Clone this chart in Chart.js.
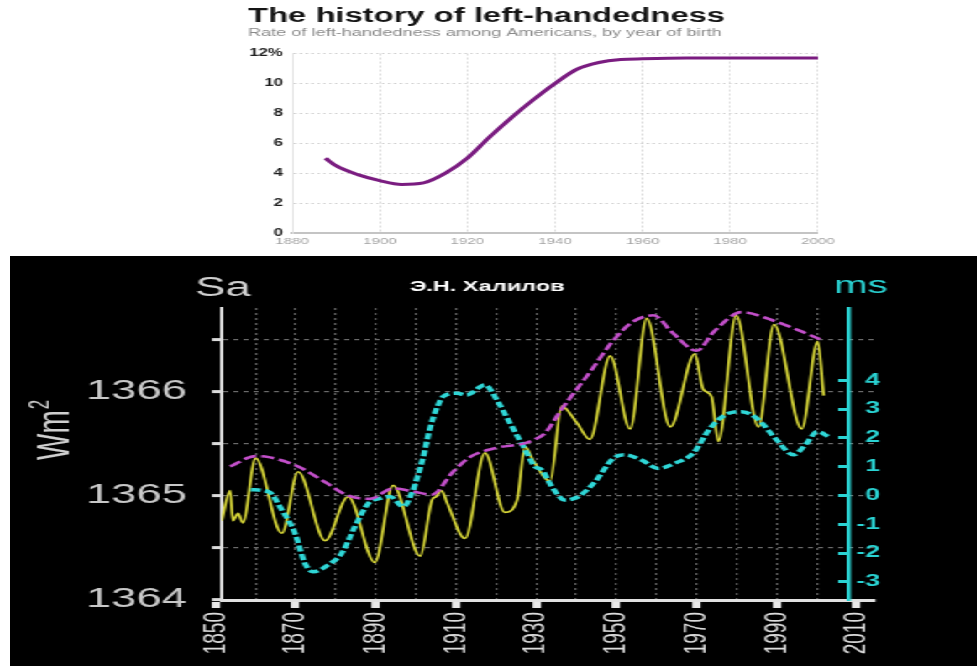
<!DOCTYPE html>
<html>
<head>
<meta charset="utf-8">
<script src="https://cdn.jsdelivr.net/npm/chart.js@4.4.1/dist/chart.umd.min.js"></script>
<style>
    html, body { margin: 0; padding: 0; background: #fff; overflow: hidden; }
    body { width: 977px; height: 666px; position: relative; }
    /* the picture is stretched sideways, so each panel is drawn narrow and widened here */
    .panel { position: absolute; transform-origin: 0 0; transform: scaleX(1.68); }
    #top-panel { left: 240px; top: 0; width: 357px; height: 252px; }
    #bottom-panel { left: 10px; top: 256px; width: 576px; height: 410px; background: #000; }
</style>
</head>
<body>
<div id="top-panel" class="panel"><canvas id="handChart"></canvas></div>
<div id="bottom-panel" class="panel"><canvas id="solarChart"></canvas></div>
<script>
// top chart: share of left-handed Americans by year of birth
const handYears = [1887.6, 1890, 1895, 1900, 1905, 1910, 1915, 1920, 1925, 1930, 1935, 1940, 1945, 1950, 1955, 1960, 1970, 1980, 1990, 2000];
const handRates = [5.0, 4.5, 3.9, 3.5, 3.25, 3.35, 4.0, 5.0, 6.4, 7.7, 8.9, 10.0, 10.95, 11.4, 11.6, 11.65, 11.7, 11.7, 11.7, 11.7];
const handXTicks = [1880, 1900, 1920, 1940, 1960, 1980, 2000];
const handYTicks = [0, 2, 4, 6, 8, 10, 12];

// bottom chart: solar irradiance (Sa), its envelope and length of day (ms)
const xTickYears = [1850, 1860, 1870, 1880, 1890, 1900, 1910, 1920, 1930, 1940, 1950, 1960, 1970, 1980, 1990, 2000, 2010];
const saTicks = [1364, 1364.5, 1365, 1365.5, 1366, 1366.5];
const msTicks = [-3, -2, -1, 0, 1, 2, 3, 4];
const msAxisYear = 2008.07;

const saYears = [1851.55, 1853.63, 1854.32, 1855.61, 1856.80, 1859.98, 1866.53, 1870.59, 1877.34, 1883.09, 1889.74, 1894.30, 1901.05, 1904.02, 1905.02, 1906.40, 1907.79, 1912.26, 1917.22, 1922.18, 1925.25, 1927.24, 1929.22, 1933.49, 1936.36, 1940.13, 1943.41, 1948.47, 1953.43, 1957.59, 1963.45, 1969.60, 1971.68, 1973.76, 1975.45, 1979.91, 1985.47, 1989.34, 1996.28, 2000.25, 2001.74];
const saValues = [1364.76, 1365.05, 1364.76, 1364.83, 1364.74, 1365.36, 1364.64, 1365.23, 1364.57, 1364.99, 1364.36, 1365.10, 1364.42, 1364.96, 1364.99, 1365.05, 1364.93, 1364.59, 1365.41, 1364.84, 1364.96, 1365.47, 1365.34, 1365.14, 1365.86, 1365.70, 1365.54, 1366.34, 1365.64, 1366.70, 1365.66, 1366.36, 1366.02, 1365.95, 1365.52, 1366.73, 1365.66, 1366.64, 1365.64, 1366.48, 1365.96];

const envYears = [1853.63, 1859.98, 1863.25, 1870.59, 1877.34, 1883.09, 1888.55, 1894.30, 1899.36, 1903.92, 1909.28, 1913.45, 1920.19, 1926.84, 1929.72, 1932.20, 1936.36, 1943.90, 1948.86, 1953.82, 1959.28, 1963.84, 1970.09, 1974.26, 1981.30, 1989.14, 1995.88, 2000.84];
const envValues = [1365.28, 1365.38, 1365.37, 1365.28, 1365.13, 1365.00, 1364.97, 1365.07, 1365.04, 1365.01, 1365.23, 1365.37, 1365.46, 1365.50, 1365.54, 1365.60, 1365.83, 1366.21, 1366.47, 1366.66, 1366.73, 1366.57, 1366.39, 1366.57, 1366.76, 1366.68, 1366.58, 1366.50];

const lodYears = [1858.79, 1863.25, 1866.53, 1869.80, 1872.28, 1874.36, 1878.13, 1881.50, 1884.78, 1888.15, 1891.03, 1893.51, 1896.88, 1898.96, 1901.84, 1903.43, 1905.41, 1906.90, 1910.17, 1912.65, 1917.22, 1920.19, 1923.47, 1926.84, 1929.72, 1931.40, 1933.88, 1937.16, 1940.53, 1944.70, 1949.26, 1952.14, 1956.30, 1960.47, 1964.63, 1969.20, 1973.37, 1977.93, 1981.30, 1985.07, 1990.03, 1994.20, 1997.47, 2000.15, 2003.03];
const lodValues = [0.20, 0.13, -0.50, -1.31, -2.35, -2.65, -2.41, -2.00, -1.08, -0.27, -0.10, -0.04, -0.39, 0.08, 1.35, 2.30, 3.10, 3.45, 3.55, 3.49, 3.84, 3.32, 2.51, 1.69, 1.00, 0.89, 0.31, -0.16, -0.04, 0.48, 1.29, 1.41, 1.23, 0.94, 1.12, 1.47, 2.33, 2.85, 2.91, 2.68, 1.93, 1.41, 1.81, 2.22, 2.04];

Chart.defaults.font.family = '"Liberation Sans", Arial, sans-serif';
Chart.defaults.animation = false;

function toPoints(xs, ys) {
    return xs.map((x, i) => ({ x: x, y: ys[i] }));
}

function fixedTicks(values) {
    return scale => { scale.ticks = values.map(v => ({ value: v })); };
}

const CLEAR = 'rgba(0,0,0,0)';

new Chart(document.getElementById('handChart'), {
    type: 'line',
    data: {
        datasets: [{
            data: toPoints(handYears, handRates),
            borderColor: '#7a1c80',
            borderWidth: 3,
            pointRadius: 0,
            cubicInterpolationMode: 'monotone'
        }]
    },
    options: {
        responsive: true,
        maintainAspectRatio: false,
        layout: { padding: { left: 4.8, right: 5.8, top: 0, bottom: 0 } },
        plugins: {
            legend: { display: false },
            tooltip: { enabled: false },
            title: {
                display: true,
                text: 'The history of left-handedness',
                align: 'start',
                color: '#151515',
                font: { size: 19.5, weight: 'bold', lineHeight: 1.0 },
                padding: { top: 7, bottom: 0 }
            },
            subtitle: {
                display: true,
                text: 'Rate of left-handedness among Americans, by year of birth',
                align: 'start',
                color: '#8a8a8a',
                font: { size: 10.8, lineHeight: 1.3 },
                padding: { top: 0, bottom: 13 }
            }
        },
        scales: {
            x: {
                type: 'linear',
                min: 1880,
                max: 2000,
                afterBuildTicks: fixedTicks(handXTicks),
                afterFit: s => { s.height = 19; },
                ticks: { color: '#a4a4a4', font: { size: 9 }, padding: 3, callback: v => String(v) },
                grid: {
                    drawTicks: false,
                    color: c => (c.tick && c.tick.value === 1880) ? CLEAR : '#dddddd'
                },
                border: { color: '#c4c4c4', width: 2, dash: [2, 2] }
            },
            y: {
                min: 0,
                max: 12,
                afterBuildTicks: fixedTicks(handYTicks),
                afterFit: s => { s.width = 26.2; },
                ticks: {
                    color: '#1e1e1e',
                    font: { size: 10, weight: 'bold' },
                    padding: 5.5,
                    callback: v => v === 12 ? '12%' : String(v)
                },
                grid: {
                    drawTicks: false,
                    color: c => (c.tick && c.tick.value === 0) ? CLEAR : '#d2d2d2'
                },
                border: { color: '#e2e2e2', width: 1, dash: [1.5, 2] }
            }
        }
    }
});

// texts of the dark panel that are not axis labels, and the labels of the ms axis
const solarTextPlugin = {
    id: 'solarText',
    afterDraw(chart) {
        const ctx = chart.ctx;
        const area = chart.chartArea;
        const msScale = chart.scales.ms;
        const axisX = chart.scales.x.getPixelForValue(msAxisYear);
        ctx.save();
        ctx.textBaseline = 'alphabetic';

        ctx.fillStyle = '#cfcfcf';
        ctx.font = '27px "Liberation Sans", Arial, sans-serif';
        ctx.textAlign = 'left';
        ctx.fillText('Sa', area.left - 16, area.top - 12);

        ctx.fillStyle = '#ffffff';
        ctx.font = 'bold 14px "Liberation Sans", Arial, sans-serif';
        ctx.textAlign = 'center';
        ctx.fillText('Э.Н. Халилов', 284, area.top - 17);

        ctx.fillStyle = '#2ad3d3';
        ctx.font = '24px "Liberation Sans", Arial, sans-serif';
        ctx.textAlign = 'left';
        ctx.fillText('ms', axisX - 9, area.top - 15);

        ctx.font = 'bold 16px "Liberation Sans", Arial, sans-serif';
        ctx.textAlign = 'right';
        ctx.textBaseline = 'middle';
        msScale.ticks.forEach(t => {
            ctx.fillText(String(t.value), axisX + 18.5, msScale.getPixelForValue(t.value));
        });

        // Wm2, read upwards
        ctx.fillStyle = '#cfcfcf';
        ctx.textAlign = 'left';
        ctx.textBaseline = 'alphabetic';
        ctx.translate(34.5, 204);
        ctx.rotate(-Math.PI / 2);
        ctx.font = '28px "Liberation Sans", Arial, sans-serif';
        ctx.fillText('Wm', 0, 0);
        const w = ctx.measureText('Wm').width;
        ctx.font = '17px "Liberation Sans", Arial, sans-serif';
        ctx.fillText('2', w + 1, -12);
        ctx.restore();
    }
};

new Chart(document.getElementById('solarChart'), {
    type: 'line',
    data: {
        datasets: [
            {
                data: toPoints(envYears, envValues),
                yAxisID: 'y',
                borderColor: '#c24fc9',
                borderWidth: 2.6,
                borderDash: [8, 3],
                pointRadius: 0,
                cubicInterpolationMode: 'monotone'
            },
            {
                data: toPoints(lodYears, lodValues),
                yAxisID: 'ms',
                borderColor: '#2fd6d6',
                borderWidth: 3.5,
                borderDash: [6, 2.5],
                pointRadius: 0,
                cubicInterpolationMode: 'monotone'
            },
            {
                data: toPoints(saYears, saValues),
                yAxisID: 'y',
                borderColor: '#d9d838',
                borderWidth: 1.7,
                pointRadius: 0,
                cubicInterpolationMode: 'monotone'
            }
        ]
    },
    options: {
        responsive: true,
        maintainAspectRatio: false,
        layout: { padding: { left: 0, right: 61.1, top: 52, bottom: 0 } },
        plugins: {
            legend: { display: false },
            tooltip: { enabled: false }
        },
        scales: {
            x: {
                type: 'linear',
                min: 1851.6,
                max: 2014.56,
                afterBuildTicks: fixedTicks(xTickYears),
                afterFit: s => { s.height = 66; },
                ticks: {
                    autoSkip: false,
                    minRotation: 90,
                    maxRotation: 90,
                    color: '#dcdcdc',
                    font: { size: 19 },
                    padding: 4,
                    callback: v => (v - 1850) % 20 === 0 ? String(v) : ''
                },
                grid: {
                    lineWidth: 1.2,
                    color: c => (c.tick && c.tick.value > 1850 && c.tick.value < 2010) ? '#626262' : CLEAR,
                    tickLength: 8,
                    tickWidth: 5,
                    tickColor: c => (c.tick && (c.tick.value - 1850) % 20 === 0) ? '#e8e8e8' : CLEAR
                },
                border: { color: '#e0e0e0', width: 3, dash: [2, 3] }
            },
            y: {
                position: 'left',
                min: 1364,
                max: 1366.8,
                afterBuildTicks: fixedTicks(saTicks),
                afterFit: s => { s.width = 126.2; },
                ticks: {
                    color: '#c8c8c8',
                    font: { size: 27 },
                    padding: 15,
                    callback: v => Number.isInteger(v) ? String(v) : ''
                },
                grid: {
                    lineWidth: 1.2,
                    color: c => (c.tick && c.tick.value > 1364) ? '#6a6a6a' : CLEAR,
                    tickLength: 6,
                    tickWidth: 3,
                    tickColor: '#dcdcdc'
                },
                border: { color: '#dcdcdc', width: 2, dash: [3, 3] }
            },
            ms: {
                type: 'linear',
                axis: 'y',
                position: { x: msAxisYear },
                min: -3.63,
                max: 6.51,
                afterBuildTicks: fixedTicks(msTicks),
                afterFit: s => { s.width = 0; },
                ticks: { display: false },
                grid: {
                    drawOnChartArea: false,
                    color: '#2ad3d3',
                    tickLength: 5,
                    tickWidth: 3,
                    tickColor: '#2ad3d3'
                },
                border: { color: '#2ad3d3', width: 2.5 }
            }
        }
    },
    plugins: [solarTextPlugin]
});
</script>
</body>
</html>
